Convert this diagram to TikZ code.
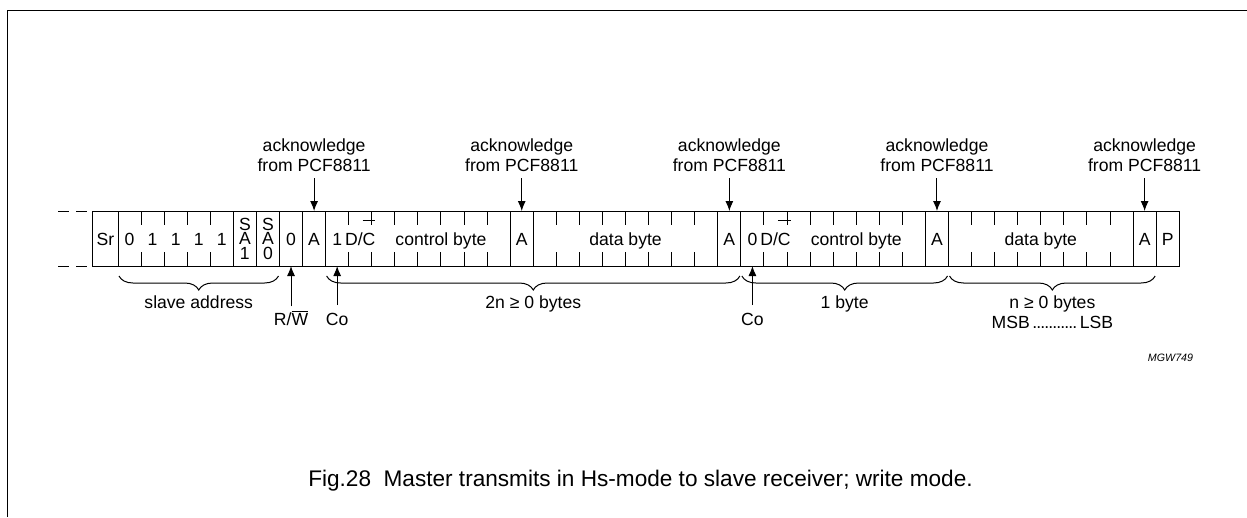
\documentclass[tikz,border=0pt]{standalone}
\usepackage{fontspec}
\setmainfont{Liberation Sans}
\usetikzlibrary{arrows.meta,decorations.pathreplacing}

\newcommand{\bx}[1]{118+#1*23.07}        % left edge of bit cell #1
\newcommand{\cx}[1]{118+(#1+0.5)*23.07}  % centre of bit cell #1
\newcommand{\dcbar}{\ensuremath{\overline{\mbox{C\rule{0pt}{23pt}}}}}

\begin{document}
\begin{tikzpicture}[x=1pt,y=-1pt,line width=1pt,>={Latex[length=10pt,width=8pt]},
	txt/.style={font=\fontsize{17.6}{20}\selectfont,inner sep=0pt},
	bit/.style={txt,anchor=base},
	ack/.style={txt,align=center,anchor=south},
	brc/.style={decorate,decoration={brace,amplitude=14pt}}]
	\useasboundingbox (0,0) rectangle (1247,517);
	\draw[line width=1.3pt] (7.5,517) -- (7.5,10.5) -- (1247,10.5);

	% the frame of bits
	\draw[dash pattern=on 11pt off 7pt] (58,211) -- (88,211) (58,266) -- (88,266);
	\draw (92.7,211) rectangle ({\bx{46}},266);
	\foreach \k in {0,5,6,7,8,9,17,18,26,27,35,36,44,45}
		\draw ({\bx{\k}},211) -- ({\bx{\k}},266);
	\foreach \ka/\kb in {1/4,10/16,19/25,28/34,37/43}
		\foreach \k in {\ka,...,\kb}
			\draw ({\bx{\k}},211) -- ++(0,14) ({\bx{\k}},266) -- ++(0,-14);

	\node[bit] (sr) at (105.4,245) {Sr};
	\foreach \k/\b in {0/0,1/1,2/1,3/1,4/1}
		\node[bit] (a\k) at ({\cx{\k}},245) {\b};
	% SA1 and SA0, one letter above the other
	\foreach \k/\b in {5/1,6/0} {
		\node[bit] (s\k) at ({\cx{\k}},230) {S};
		\node[bit] (m\k) at ({\cx{\k}},244.5) {A};
		\node[bit] (n\k) at ({\cx{\k}},259) {\b};
	}
	\node[bit] (rw) at ({\cx{7}},245) {0};
	\node[bit] (A1) at ({\cx{8}},245) {A};
	\node[bit] (co1) at ({\cx{9}},245) {1};
	\node[bit] (dc1) at ({\cx{10}},245) {D/\dcbar};
	\node[bit] (ctl1) at ({\bx{14}},245) {control byte};
	\node[bit] (A2) at ({\cx{17}},245) {A};
	\node[bit] (dat1) at ({\bx{22}},245) {data byte};
	\node[bit] (A3) at ({\cx{26}},245) {A};
	\node[bit] (co2) at ({\cx{27}},245) {0};
	\node[bit] (dc2) at ({\cx{28}},245) {D/\dcbar};
	\node[bit] (ctl2) at ({\bx{32}},245) {control byte};
	\node[bit] (A4) at ({\cx{35}},245) {A};
	\node[bit] (dat2) at ({\bx{40}},245) {data byte};
	\node[bit] (A5) at ({\cx{44}},245) {A};
	\node[bit] (stop) at ({\cx{45}},245) {P};

	% acknowledges
	\foreach \k/\n in {8/1,17/2,26/3,35/4,44/5} {
		\coordinate (t\n) at ({\cx{\k}},211);
		\node[ack] (ack\n) at ({\cx{\k}},172) {acknowledge\\from PCF8811};
		\draw[->,shorten <=6pt] (ack\n.south) -- (t\n);
	}

	% below the frame
	\coordinate (b7) at ({\cx{7}},266);
	\coordinate (b9) at ({\cx{9}},266);
	\coordinate (b27) at ({\cx{27}},266);
	\node[bit] (rwl) at ({\cx{7}},325) {R/\ensuremath{\overline{\mbox{W}}}};
	\node[bit] (col1) at ({\cx{9}},325) {Co};
	\node[bit] (col2) at ({\cx{27}},325) {Co};
	\draw[->,shorten <=4pt] (rwl.north) -- (b7);
	\draw[->,shorten <=7pt] (col1.north) -- (b9);
	\draw[->,shorten <=7pt] (col2.north) -- (b27);

	\draw[brc] ({\bx{7}-1},276) -- ({\bx{0}+1},276);
	\draw[brc] ({\bx{27}-1},276) -- ({\bx{9}+1},276);
	\draw[brc] ({\bx{36}-1},276) -- ({\bx{27}+1},276);
	\draw[brc] ({\bx{45}-1},276) -- ({\bx{36}+1},276);
	\node[bit] (slv) at ({\bx{3.5}},308.5) {slave address};
	\node[bit] (n2) at ({\bx{18}},308.5) {2n ≥ 0 bytes};
	\node[bit] (n1) at ({\bx{31.5}},308.5) {1 byte};
	\node[bit] (n0) at ({\bx{40.5}},308.5) {n ≥ 0 bytes};
	\node[bit] (msb) at ({\bx{40.5}},328) {MSB\hspace{3pt}\makebox[44pt]{\cleaders\hbox to 4pt{\hss.\hss}\hfill}\hspace{3pt}LSB};

	\node[font=\fontsize{10.7}{12}\selectfont\itshape,inner sep=0pt,anchor=base] (code) at (1170.5,361) {MGW749};
	\node[font=\fontsize{22.6}{26}\selectfont,inner sep=0pt,anchor=base] (cap) at (640.5,486.5) {Fig.28~~Master transmits in Hs-mode to slave receiver; write mode.};
\end{tikzpicture}
\end{document}
